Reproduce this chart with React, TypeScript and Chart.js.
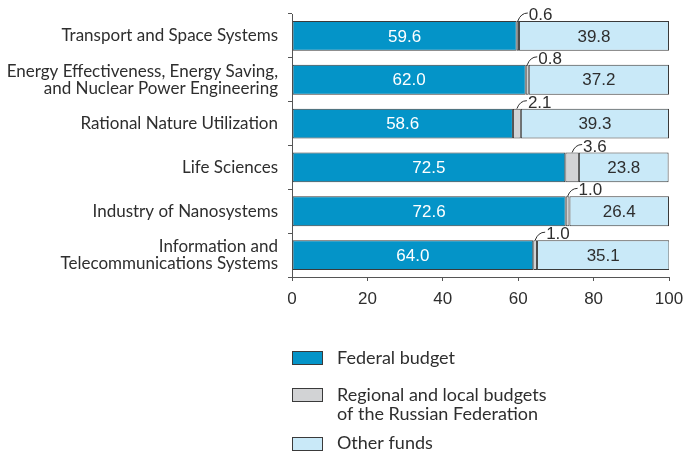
import React, { useEffect, useRef } from "react";
import { Chart, registerables } from "chart.js";

Chart.register(...registerables);

const categories: string[][] = [
  ["Transport and Space Systems"],
  ["Energy Effectiveness, Energy Saving,", "and Nuclear Power Engineering"],
  ["Rational Nature Utilization"],
  ["Life Sciences"],
  ["Industry of Nanosystems"],
  ["Information and", "Telecommunications Systems"],
];
const federalBudget = [59.6, 62.0, 58.6, 72.5, 72.6, 64.0];
const regionalBudgets = [0.6, 0.8, 2.1, 3.6, 1.0, 1.0];
const otherFunds = [39.8, 37.2, 39.3, 23.8, 26.4, 35.1];
const seriesNames: string[][] = [
  ["Federal budget"],
  ["Regional and local budgets", "of the Russian Federation"],
  ["Other funds"],
];
const xMin = 0;
const xMax = 100;
const xStep = 20;

const COLORS = ["#0494c8", "#d2d3d5", "#c9e9f8"];
const BORDER = "#3a3a3a";
const TEXT = "#2e2e2e";
const NUM_FONT = "'Liberation Sans Narrow', 'Arial Narrow', 'Liberation Sans', sans-serif";
const LABEL_FONT = "Lato, 'Noto Sans', sans-serif";

const valueLabels = {
  id: "valueLabels",
  afterDatasetsDraw(chart: any) {
    const ctx = chart.ctx;
    ctx.save();
    ctx.font = `17px ${NUM_FONT}`;
    ctx.textBaseline = "middle";
    ctx.textAlign = "center";
    chart.getDatasetMeta(0).data.forEach((el: any, i: number) => {
      ctx.fillStyle = "#ffffff";
      ctx.fillText(federalBudget[i].toFixed(1), (el.x + el.base) / 2, el.y + 1);
    });
    chart.getDatasetMeta(2).data.forEach((el: any, i: number) => {
      ctx.fillStyle = TEXT;
      ctx.fillText(otherFunds[i].toFixed(1), (el.x + el.base) / 2, el.y + 1);
    });
    chart.getDatasetMeta(1).data.forEach((el: any, i: number) => {
      const mid = (el.x + el.base) / 2;
      const top = el.y - el.height / 2;
      ctx.strokeStyle = TEXT;
      ctx.lineWidth = 1;
      ctx.beginPath();
      ctx.moveTo(mid, top);
      ctx.quadraticCurveTo(mid + 3, top - 8, mid + 10, top - 8);
      ctx.stroke();
      ctx.fillStyle = TEXT;
      ctx.textAlign = "left";
      ctx.textBaseline = "alphabetic";
      ctx.fillText(regionalBudgets[i].toFixed(1), mid + 11, top - 1);
    });
    ctx.restore();
  },
};

const customLegend = {
  id: "customLegend",
  afterDraw(chart: any) {
    const ctx = chart.ctx;
    const left = chart.chartArea.left;
    const rows = [
      { boxY: 351, textY: [358] },
      { boxY: 388, textY: [395, 414] },
      { boxY: 437, textY: [443] },
    ];
    ctx.save();
    rows.forEach((r, i) => {
      ctx.fillStyle = COLORS[i];
      ctx.strokeStyle = BORDER;
      ctx.lineWidth = 1;
      ctx.fillRect(left + 0.5, r.boxY + 0.5, 30, 13);
      ctx.strokeRect(left + 0.5, r.boxY + 0.5, 30, 13);
      ctx.fillStyle = TEXT;
      ctx.font = `18px ${LABEL_FONT}`;
      ctx.textAlign = "left";
      ctx.textBaseline = "middle";
      seriesNames[i].forEach((t, j) => ctx.fillText(t, left + 45, r.textY[j]));
    });
    ctx.restore();
  },
};

const zeroPad = (s: any) => {
  s.paddingTop = 0;
  s.paddingBottom = 0;
  s.paddingLeft = 0;
  s.paddingRight = 0;
};

export default function App() {
  const ref = useRef<HTMLCanvasElement | null>(null);
  useEffect(() => {
    if (!ref.current) return;
    const chart = new Chart(ref.current, {
      type: "bar",
      data: {
        labels: categories,
        datasets: [federalBudget, regionalBudgets, otherFunds].map((d, i) => ({
          label: seriesNames[i].join(" "),
          data: d,
          backgroundColor: COLORS[i],
          borderColor: BORDER,
          borderWidth: 1,
          borderSkipped: false,
          barPercentage: 0.68,
          categoryPercentage: 1,
        })),
      },
      options: {
        indexAxis: "y",
        responsive: false,
        animation: false,
        devicePixelRatio: 1,
        layout: { padding: { top: 14, right: 18, bottom: 137, left: 0 } },
        plugins: { legend: { display: false }, tooltip: { enabled: false } },
        scales: {
          x: {
            stacked: true,
            min: xMin,
            max: xMax,
            ticks: { stepSize: xStep, color: TEXT, font: { family: NUM_FONT, size: 17 }, padding: 8 },
            grid: { drawOnChartArea: false, tickLength: 4, color: "#555" },
            border: { color: "#555" },
            afterFit: (s: any) => { s.height = 40; zeroPad(s); },
          },
          y: {
            stacked: true,
            ticks: { color: TEXT, font: { family: LABEL_FONT, size: 17, lineHeight: 1.0 }, padding: 10 },
            grid: { drawOnChartArea: false, tickLength: 4, offset: true, color: "#555" },
            border: { color: "#555" },
            afterFit: (s: any) => { s.width = 292; zeroPad(s); },
          },
        },
      },
      plugins: [valueLabels, customLegend],
    } as any);
    return () => chart.destroy();
  }, []);
  return (
    <div style={{ position: "absolute", left: 0, top: 0, width: 687, height: 454, background: "#fff" }}>
      <canvas ref={ref} width={687} height={454} />
    </div>
  );
}
